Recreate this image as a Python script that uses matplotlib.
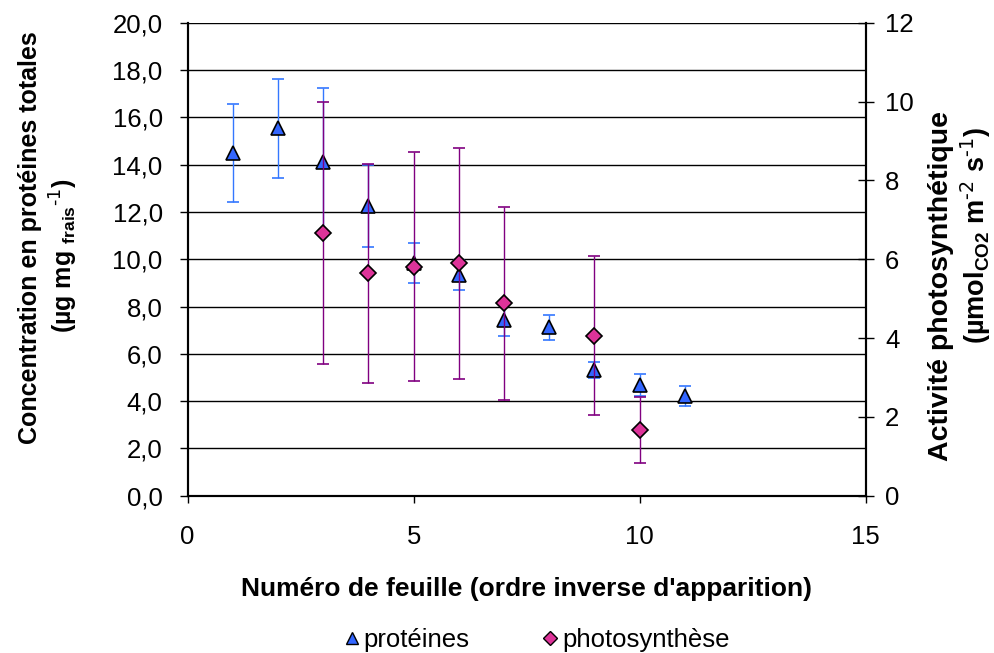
import matplotlib
matplotlib.use('Agg')
import matplotlib.pyplot as plt
from matplotlib.ticker import FixedLocator, FuncFormatter

plt.rcParams['font.family'] = ['Liberation Sans', 'DejaVu Sans']
plt.rcParams['mathtext.default'] = 'regular'

# Data
leaf_prot = [1, 2, 3, 4, 5, 6, 7, 8, 9, 10, 11]
proteins = [14.48, 15.53, 14.12, 12.25, 9.83, 9.33, 7.43, 7.12, 5.31, 4.68, 4.22]
proteins_err = [2.07, 2.10, 3.10, 1.73, 0.84, 0.65, 0.66, 0.53, 0.33, 0.45, 0.42]

leaf_photo = [3, 4, 5, 6, 7, 9, 10]
photo = [6.66, 5.64, 5.81, 5.90, 4.88, 4.06, 1.67]
photo_err = [3.32, 2.77, 2.90, 2.93, 2.44, 2.02, 0.83]

left_ticks = [0, 2, 4, 6, 8, 10, 12, 14, 16, 18, 20]
right_ticks = [0, 2, 4, 6, 8, 10, 12]
x_ticks = [0, 5, 10, 15]

blue_fill = '#3366FF'
blue_err = '#3377FF'
purple = '#800080'
pink = '#DD3399'

W, H = 994, 653
fig = plt.figure(figsize=(W / 100, H / 100), dpi=100)
ax = fig.add_axes([0.1888, 0.2409, 0.6821, 0.7243])
ax2 = ax.twinx()

# horizontal grid lines at every left tick
for v in left_ticks[1:]:
    ax.axhline(v, color='black', lw=1.0, zorder=0)

ax.errorbar(leaf_prot, proteins, yerr=proteins_err, fmt='^', ms=9.5,
            mfc=blue_fill, mec='black', mew=1.2, ecolor=blue_err,
            elinewidth=1.0, capsize=4, capthick=1.0, zorder=3)
ax2.errorbar(leaf_photo, photo, yerr=photo_err, fmt='D', ms=8,
             mfc=pink, mec='black', mew=1.2, ecolor=purple,
             elinewidth=1.0, capsize=4, capthick=1.0, zorder=3)

ax.set_xlim(0, 15)
ax.set_ylim(0, 20)
ax2.set_ylim(0, 12)

ax.xaxis.set_major_locator(FixedLocator(x_ticks))
ax.yaxis.set_major_locator(FixedLocator(left_ticks))
ax.yaxis.set_major_formatter(FuncFormatter(lambda v, p: f'{v:.1f}'.replace('.', ',')))
ax2.yaxis.set_major_locator(FixedLocator(right_ticks))

for a in (ax, ax2):
    a.spines['top'].set_visible(False)
    for s in a.spines.values():
        s.set_linewidth(1.5)
        s.set_color('black')

ax.tick_params(axis='y', direction='out', length=6, width=1, labelsize=18.5, pad=12)
ax.tick_params(axis='x', direction='out', length=5, width=1, labelsize=18.5, pad=16)
ax2.tick_params(axis='y', direction='inout', length=12, width=1, labelsize=18.5, pad=8)

ax.set_xlabel("Numéro de feuille (ordre inverse d'apparition)",
              fontsize=19, fontweight='bold', labelpad=20)

# axis titles: each line placed on its own, as in the reference
def vtext(px, py, s, size):
    fig.text(px / W, 1 - py / H, s, rotation=90, ha='center', va='center',
             fontsize=size, fontweight='bold')

vtext(30, 238, 'Concentration en protéines totales', 18)
vtext(64, 256, r'(µg mg $_{frais}$$^{\text{-1}}$)', 18)
vtext(941, 286, 'Activité photosynthétique', 20.5)
vtext(976, 236, r'(µmol$_{CO2}$ m$^{\text{-2}}$ s$^{\text{-1}}$)', 19.5)

h1 = plt.Line2D([], [], ls='none', marker='^', ms=9, mfc=blue_fill, mec='black', mew=1)
h2 = plt.Line2D([], [], ls='none', marker='D', ms=7, mfc=pink, mec='black', mew=1)
fig.legend([h1, h2], ['protéines', 'photosynthèse'], loc='center',
           bbox_to_anchor=(0.54, 0.020), ncol=2, frameon=False, fontsize=18.5,
           handlelength=0.6, handletextpad=0.15, columnspacing=2.85)

fig.savefig('out.png', dpi=100)
